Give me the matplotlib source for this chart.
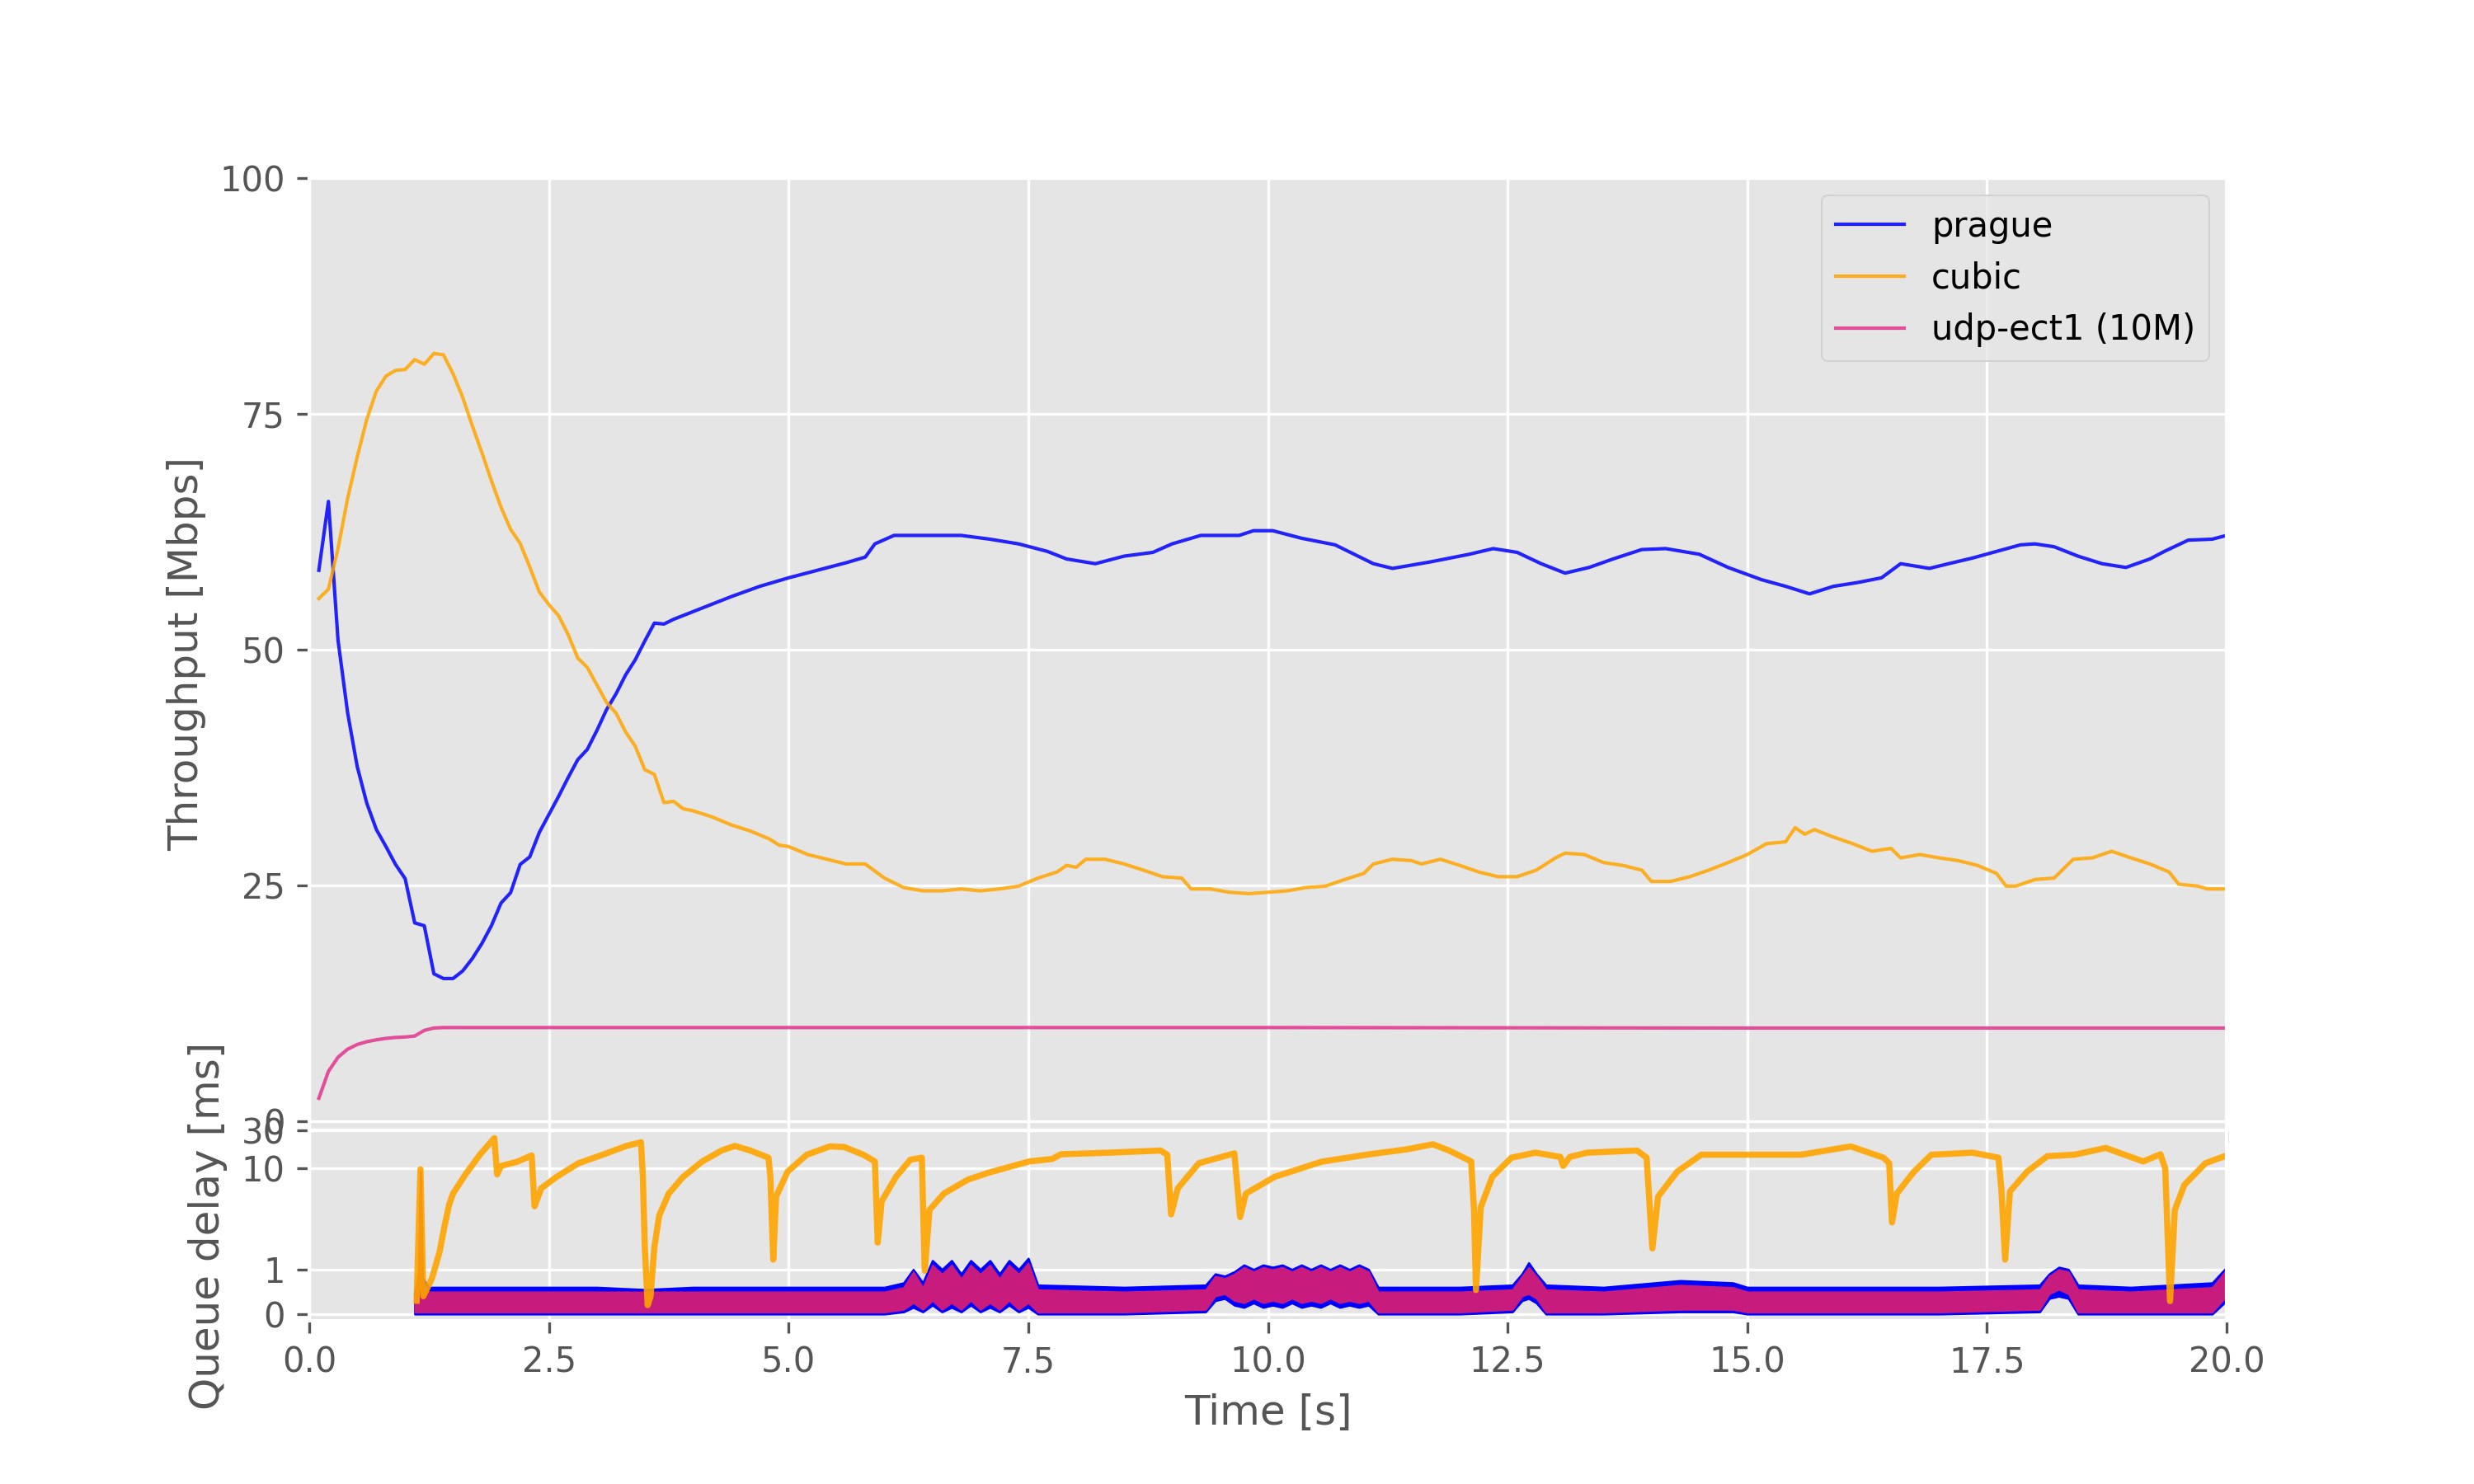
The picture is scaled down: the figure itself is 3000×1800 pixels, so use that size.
import matplotlib

matplotlib.use("Agg")
import matplotlib.pyplot as plt
from matplotlib.ticker import NullLocator

plt.style.use("ggplot")

# ---- throughput per flow [Mbps] ----
prague_t = [
    0.1, 0.2, 0.3, 0.4, 0.5, 0.6, 0.7, 0.8, 0.9, 1.0,
    1.1, 1.2, 1.3, 1.4, 1.5, 1.6, 1.7, 1.8, 1.9, 2.0,
    2.1, 2.2, 2.3, 2.4, 2.5, 2.6, 2.7, 2.8, 2.9, 3.0,
    3.1, 3.2, 3.3, 3.4, 3.5, 3.6, 3.7, 3.8,
    4.0, 4.2, 4.4, 4.7, 5.0, 5.3, 5.6, 5.8, 5.9, 6.1,
    6.8, 7.1, 7.4, 7.7, 7.9, 8.2, 8.5, 8.8, 9.0, 9.3,
    9.7, 9.85, 10.05, 10.35, 10.7, 11.1, 11.3, 11.7, 12.1, 12.35,
    12.6, 12.85, 13.1, 13.35, 13.6, 13.9, 14.15, 14.5, 14.8, 15.15,
    15.4, 15.65, 15.9, 16.15, 16.4, 16.6, 16.9, 17.1, 17.35, 17.6,
    17.85, 18.0, 18.2, 18.45, 18.7, 18.95, 19.2, 19.35, 19.6, 19.85,
    20.0,
]
prague_tput = [
    58.4, 65.7, 51.0, 43.3, 37.6, 33.7, 30.9, 29.1, 27.2, 25.7,
    21.0, 20.7, 15.6, 15.1, 15.1, 15.9, 17.2, 18.8, 20.7, 23.1,
    24.2, 27.2, 28.0, 30.6, 32.5, 34.4, 36.4, 38.3, 39.4, 41.4,
    43.6, 45.3, 47.3, 48.9, 50.9, 52.8, 52.7, 53.2,
    54.0, 54.8, 55.6, 56.7, 57.6, 58.4, 59.2, 59.8, 61.2, 62.1,
    62.1, 61.7, 61.2, 60.4, 59.6, 59.1, 59.9, 60.3, 61.2, 62.1,
    62.1, 62.6, 62.6, 61.8, 61.1, 59.1, 58.6, 59.3, 60.1, 60.7,
    60.3, 59.1, 58.1, 58.7, 59.6, 60.6, 60.7, 60.1, 58.7, 57.4,
    56.7, 55.9, 56.7, 57.1, 57.6, 59.1, 58.6, 59.1, 59.7, 60.4,
    61.1, 61.2, 60.9, 59.9, 59.1, 58.7, 59.6, 60.4, 61.6, 61.7,
    62.1,
]

cubic_t = [
    0.1, 0.2, 0.3, 0.4, 0.5, 0.6, 0.7, 0.8, 0.9, 1.0,
    1.1, 1.2, 1.3, 1.4, 1.5,
    1.6, 1.7, 1.8, 1.9, 2.0, 2.1, 2.2, 2.3, 2.4, 2.5,
    2.6, 2.7, 2.8, 2.9, 3.0, 3.1, 3.2, 3.3, 3.4, 3.5,
    3.6, 3.7, 3.8, 3.9,
    4.0, 4.2, 4.4, 4.6, 4.8, 4.9, 5.0, 5.2, 5.4, 5.6,
    5.8, 6.0, 6.2, 6.4, 6.6, 6.8, 7.0, 7.2, 7.4, 7.6,
    7.8, 7.9, 8.0, 8.1, 8.3, 8.5, 8.7, 8.9, 9.1, 9.2,
    9.4, 9.6, 9.8, 10.0, 10.2, 10.4, 10.6, 10.8, 11.0, 11.1,
    11.3, 11.5, 11.6, 11.8, 12.0, 12.2, 12.4, 12.6, 12.8, 13.0,
    13.1, 13.3, 13.5, 13.7, 13.9, 14.0, 14.2, 14.4, 14.6, 14.8,
    15.0, 15.2, 15.4, 15.5, 15.6, 15.7, 15.9, 16.1, 16.3, 16.5,
    16.6, 16.8, 17.0, 17.2, 17.4, 17.6, 17.7, 17.8, 18.0, 18.2,
    18.4, 18.6, 18.8, 19.0, 19.2, 19.4, 19.5, 19.7, 19.8, 20.0,
]
cubic_tput = [
    55.4, 56.4, 60.7, 66.0, 70.4, 74.4, 77.4, 79.0, 79.6, 79.7,
    80.75, 80.25, 81.4, 81.25, 79.25,
    76.75, 73.75, 70.9, 67.9, 65.1, 62.75, 61.25, 58.75, 56.1, 54.75,
    53.6, 51.6, 49.1, 48.1, 46.25, 44.4, 43.25, 41.25, 39.75, 37.25,
    36.75, 33.75, 33.9, 33.1,
    32.9, 32.25, 31.4, 30.75, 29.9, 29.25, 29.1, 28.25, 27.75, 27.25,
    27.25, 25.75, 24.75, 24.4, 24.4, 24.6, 24.4, 24.6, 24.9, 25.75,
    26.4, 27.1, 26.9, 27.75, 27.75, 27.25, 26.6, 25.9, 25.75, 24.6,
    24.6, 24.25, 24.1, 24.25, 24.4, 24.75, 24.9, 25.6, 26.25, 27.25,
    27.75, 27.6, 27.25, 27.75, 27.1, 26.4, 25.9, 25.9, 26.6, 27.9,
    28.4, 28.25, 27.4, 27.1, 26.6, 25.4, 25.4, 25.9, 26.6, 27.4,
    28.25, 29.4, 29.6, 31.1, 30.4, 30.9, 30.1, 29.4, 28.6, 28.9,
    27.9, 28.25, 27.9, 27.6, 27.1, 26.25, 24.9, 24.9, 25.6, 25.75,
    27.75, 27.9, 28.6, 27.9, 27.25, 26.4, 25.1, 24.9, 24.6, 24.6,
]

udp_t = [0.1, 0.2, 0.3, 0.4, 0.5, 0.6, 0.7, 0.8, 0.9, 1.0, 1.1, 1.2, 1.3, 1.4, 5.0, 10.0, 15.0, 20.0]
udp_tput = [2.4, 5.25, 6.75, 7.6, 8.1, 8.4, 8.6, 8.75, 8.85, 8.9, 9.0, 9.6, 9.85, 9.9, 9.9, 9.9, 9.85, 9.85]

# ---- queue delay [ms] ----
cubic_qd_t = [
    1.12, 1.16, 1.19, 1.28, 1.36, 1.41, 1.46, 1.50, 1.63, 1.78,
    1.93, 1.96, 2.00, 2.17, 2.32, 2.35, 2.42, 2.58, 2.81, 3.06,
    3.31, 3.46, 3.48, 3.50, 3.53, 3.56, 3.60, 3.65, 3.75, 3.90,
    4.10, 4.30, 4.44, 4.60, 4.79, 4.81, 4.84, 4.87, 4.99, 5.19,
    5.43, 5.58, 5.78, 5.90, 5.93, 5.97, 6.12, 6.27, 6.39, 6.42,
    6.47, 6.62, 6.87, 7.10, 7.51, 7.75, 7.84, 8.34, 8.88, 8.95,
    8.99, 9.06, 9.28, 9.65, 9.71, 9.77, 10.07, 10.56, 11.06, 11.45,
    11.72, 11.89, 12.12, 12.15, 12.17, 12.22, 12.34, 12.54, 12.79, 13.05,
    13.08, 13.15, 13.33, 13.85, 13.95, 14.01, 14.07, 14.27, 14.52, 14.85,
    15.56, 16.08, 16.42, 16.48, 16.51, 16.56, 16.74, 16.92, 17.35, 17.62,
    17.65, 17.69, 17.74, 17.92, 18.13, 18.41, 18.74, 19.13, 19.31, 19.36,
    19.41, 19.46, 19.56, 19.78, 20.0,
]
cubic_qd = [
    0.3, 9.8, 0.4, 0.8, 1.4, 1.96, 3.6, 4.9, 8.5, 14.9,
    24.0, 8.5, 10.8, 12.2, 14.6, 3.4, 5.7, 7.9, 11.7, 14.9,
    19.2, 21.3, 8.0, 1.5, 0.2, 0.4, 1.5, 2.6, 4.9, 7.9,
    12.3, 16.8, 19.2, 16.8, 13.7, 7.9, 1.22, 4.5, 9.2, 14.9,
    18.9, 18.6, 14.9, 12.3, 1.6, 3.9, 7.9, 12.9, 13.7, 0.97,
    3.06, 4.9, 7.3, 9.0, 12.3, 13.2, 15.1, 15.8, 16.8, 14.9,
    2.7, 5.7, 11.7, 15.5, 2.5, 4.9, 7.9, 12.2, 15.1, 17.4,
    20.1, 16.8, 12.3, 3.0, 0.54, 3.3, 7.9, 13.7, 15.8, 14.0,
    10.8, 14.0, 15.8, 16.8, 13.7, 1.47, 4.5, 9.2, 14.9, 14.9,
    14.9, 18.9, 13.7, 11.7, 2.14, 4.9, 9.2, 14.9, 15.8, 13.7,
    5.7, 1.22, 5.2, 9.2, 14.3, 14.9, 18.1, 12.3, 15.1, 10.0,
    0.29, 3.06, 6.3, 11.7, 14.6,
]

qd_t = [
    1.10, 1.14, 1.16, 1.18, 1.25, 2.0, 3.0, 3.5, 4.0, 5.0,
    6.0, 6.2, 6.3, 6.4, 6.5, 6.6, 6.7, 6.8, 6.9, 7.0,
    7.1, 7.2, 7.3, 7.4, 7.5, 7.6, 8.5, 9.35, 9.45, 9.55,
    9.65, 9.75, 9.85, 9.95, 10.05, 10.15, 10.25, 10.35, 10.45, 10.55,
    10.65, 10.75, 10.85, 10.95, 11.05, 11.15, 12.0, 12.55, 12.65, 12.72,
    12.8, 12.9, 13.5, 14.3, 14.85, 15.0, 16.0, 17.0, 18.05, 18.15,
    18.25, 18.35, 18.45, 19.0, 19.85, 20.0,
]
prague_qd_hi = [
    0.5, 0.8, 9.0, 0.8, 0.6, 0.6, 0.6, 0.55, 0.6, 0.6,
    0.6, 0.7, 1.0, 0.7, 1.2, 1.0, 1.2, 0.9, 1.2, 1.0,
    1.2, 0.9, 1.2, 1.0, 1.25, 0.65, 0.6, 0.65, 0.9, 0.85,
    0.95, 1.1, 1.0, 1.1, 1.05, 1.1, 1.0, 1.1, 1.0, 1.1,
    1.0, 1.1, 1.0, 1.1, 1.0, 0.6, 0.6, 0.65, 0.9, 1.15,
    0.9, 0.65, 0.6, 0.75, 0.7, 0.6, 0.6, 0.6, 0.65, 0.9,
    1.05, 1.0, 0.65, 0.6, 0.7, 1.05,
]
prague_qd_lo = [
    0.0, 0.0, 0.0, 0.0, 0.0, 0.0, 0.0, 0.0, 0.0, 0.0,
    0.0, 0.05, 0.15, 0.05, 0.2, 0.05, 0.15, 0.05, 0.2, 0.05,
    0.15, 0.05, 0.2, 0.05, 0.15, 0.0, 0.0, 0.05, 0.3, 0.35,
    0.2, 0.15, 0.25, 0.15, 0.2, 0.15, 0.25, 0.15, 0.2, 0.15,
    0.25, 0.15, 0.2, 0.15, 0.2, 0.0, 0.0, 0.05, 0.3, 0.35,
    0.25, 0.0, 0.0, 0.05, 0.05, 0.0, 0.0, 0.0, 0.05, 0.35,
    0.4, 0.35, 0.0, 0.0, 0.0, 0.3,
]
udp_qd_hi = [
    0.45, 1.0, 9.5, 0.7, 0.5, 0.5, 0.5, 0.5, 0.5, 0.5,
    0.5, 0.6, 0.95, 0.6, 1.1, 0.9, 1.1, 0.8, 1.1, 0.9,
    1.1, 0.8, 1.1, 0.9, 1.15, 0.55, 0.5, 0.55, 0.85, 0.8,
    0.9, 1.05, 0.95, 1.05, 1.0, 1.05, 0.95, 1.05, 0.95, 1.05,
    0.95, 1.05, 0.95, 1.05, 0.95, 0.5, 0.5, 0.55, 0.85, 1.05,
    0.85, 0.55, 0.5, 0.65, 0.6, 0.5, 0.5, 0.5, 0.55, 0.85,
    1.0, 0.95, 0.55, 0.5, 0.6, 1.0,
]
udp_qd_lo = [
    0.04, 0.04, 0.04, 0.04, 0.04, 0.04, 0.04, 0.04, 0.04, 0.04,
    0.04, 0.1, 0.25, 0.1, 0.3, 0.1, 0.25, 0.1, 0.3, 0.1,
    0.25, 0.1, 0.3, 0.1, 0.25, 0.04, 0.04, 0.1, 0.4, 0.45,
    0.3, 0.25, 0.35, 0.25, 0.3, 0.25, 0.35, 0.25, 0.3, 0.25,
    0.35, 0.25, 0.3, 0.25, 0.3, 0.04, 0.04, 0.1, 0.4, 0.45,
    0.35, 0.04, 0.04, 0.1, 0.1, 0.04, 0.04, 0.04, 0.1, 0.45,
    0.55, 0.45, 0.04, 0.04, 0.04, 0.4,
]

PRAGUE_COLOR = "blue"
CUBIC_COLOR = "orange"
UDP_LINE_COLOR = "#e2338c"
UDP_DOT_COLOR = "#c71c7e"

fig, (ax1, ax2) = plt.subplots(
    2, 1, sharex=True, figsize=(10, 6),
    gridspec_kw={"height_ratios": [5, 1], "hspace": 0},
)

ax1.plot(prague_t, prague_tput, color=PRAGUE_COLOR, alpha=0.85, lw=1.0, label="prague")
ax1.plot(cubic_t, cubic_tput, color=CUBIC_COLOR, alpha=0.85, lw=1.0, label="cubic")
ax1.plot(udp_t, udp_tput, color=UDP_LINE_COLOR, alpha=0.85, lw=1.0, label="udp-ect1 (10M)")
ax1.set_ylim(-1, 100)
ax1.set_yticks([0, 25, 50, 75, 100])
ax1.set_ylabel("Throughput [Mbps]")
ax1.legend(loc="upper right")

ax2.fill_between(qd_t, prague_qd_lo, prague_qd_hi, color=PRAGUE_COLOR, lw=0.6, edgecolor=PRAGUE_COLOR)
ax2.fill_between(qd_t, udp_qd_lo, udp_qd_hi, color=UDP_DOT_COLOR, lw=0.4, edgecolor=UDP_DOT_COLOR)
ax2.plot(cubic_qd_t, cubic_qd, color=CUBIC_COLOR, lw=1.8, alpha=0.9)
ax2.set_yscale("symlog", linthresh=2)
ax2.set_ylim(-0.15, 30)
ax2.set_yticks([0, 1, 10, 30])
ax2.set_yticklabels(["0", "1", "10", "30"])
ax2.yaxis.set_minor_locator(NullLocator())
ax2.set_xlim(0, 20)
ax2.set_ylabel("Queue delay [ms]")
ax2.set_xlabel("Time [s]")

fig.savefig("out.png", dpi=300)
